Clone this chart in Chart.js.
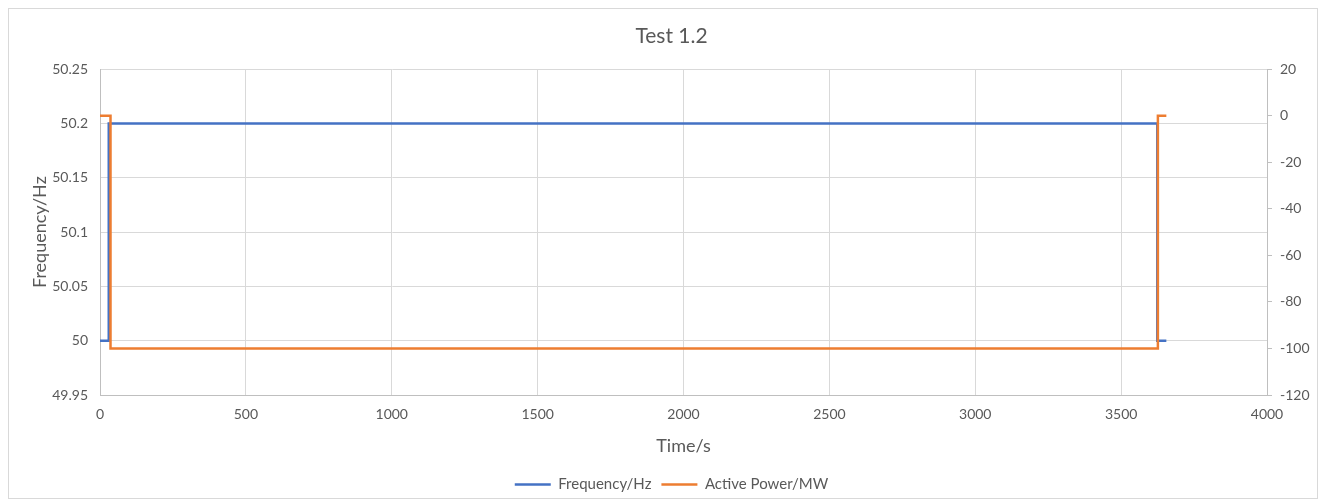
<!DOCTYPE html>
<html>
<head>
<meta charset="utf-8">
<script src="https://cdn.jsdelivr.net/npm/chart.js@4/dist/chart.umd.min.js"></script>
<style>
  body { margin: 0; background: #fff; }
  #wrap { position: relative; width: 1323px; height: 502px; }
  #frame { position: absolute; left: 8px; top: 8px; width: 1308px; height: 489px; border: 1px solid #d9d9d9; }
  #canvas { position: absolute; left: 0; top: 0; }
</style>
</head>
<body>
<div id="wrap">
  <div id="frame"></div>
  <canvas id="canvas" width="1323" height="502"></canvas>
</div>
<script>
// data
let freqTime = [0, 30, 30, 3624, 3624, 3655];
let freqValues = [50, 50, 50.2, 50.2, 50, 50];
let powerTime = [0, 36, 36, 3626, 3626, 3655];
let powerValues = [0, 0, -100, -100, 0, 0];

let seriesNames = ['Frequency/Hz', 'Active Power/MW'];

function toPoints(xs, ys) {
    let out = [];
    for (let i = 0; i < xs.length; i++) {
        out.push({ x: xs[i], y: ys[i] });
    }
    return out;
}

const font = 'Lato, Calibri, "Liberation Sans", sans-serif';
const textColor = '#595959';
const gridColor = '#d9d9d9';

let ctx = document.getElementById('canvas').getContext('2d');

let myChart = new Chart(ctx, {
    type: 'line',
    data: {
        datasets: [{
            label: seriesNames[0],
            data: toPoints(freqTime, freqValues),
            borderColor: '#4472C4',
            backgroundColor: '#4472C4',
            borderWidth: 2.5,
            pointRadius: 0,
            yAxisID: 'y',
            order: 2
        },
        {
            label: seriesNames[1],
            data: toPoints(powerTime, powerValues),
            borderColor: '#ED7D31',
            backgroundColor: '#ED7D31',
            borderWidth: 2.5,
            pointRadius: 0,
            yAxisID: 'y2',
            order: 1   // orange drawn on top, like the original
        }]
    },
    options: {
        responsive: false,
        animation: false,
        layout: { padding: { left: 25, right: 5, top: 0, bottom: 0 } },
        plugins: {
            title: {
                display: true,
                text: 'Test 1.2',
                color: textColor,
                font: { family: font, size: 21, weight: 'normal' },
                padding: { top: 24, bottom: 20 }
            },
            legend: {
                position: 'bottom',
                labels: {
                    color: textColor,
                    font: { family: font, size: 15 },
                    usePointStyle: true,
                    pointStyle: 'line',
                    pointStyleWidth: 36,
                    boxHeight: 10,
                    padding: 10,
                    sort: (a, b) => a.datasetIndex - b.datasetIndex
                }
            },
            tooltip: { enabled: false }
        },
        scales: {
            x: {
                type: 'linear',
                min: 0,
                max: 4000,
                ticks: {
                    stepSize: 500,
                    color: textColor,
                    font: { family: font, size: 14 },
                    padding: 11,
                    callback: v => String(v)
                },
                grid: { color: gridColor, drawTicks: false },
                border: { color: '#bfbfbf' },
                title: { display: true, text: 'Time/s', color: textColor, font: { family: font, size: 18 }, padding: { top: 0, bottom: 10 } },
                afterFit: function(scale) { scale.height = 72; }
            },
            y: {
                position: 'left',
                min: 49.95,
                max: 50.25,
                ticks: {
                    stepSize: 0.05,
                    color: textColor,
                    font: { family: font, size: 14 },
                    padding: 12,
                    callback: v => String(Math.round(v * 100) / 100)
                },
                grid: { color: gridColor, drawTicks: false },
                border: { color: '#bfbfbf' },
                title: { display: true, text: 'Frequency/Hz', color: textColor, font: { family: font, size: 18 }, padding: { top: 4, bottom: 0 } },
                afterFit: function(scale) { scale.width = 75; }
            },
            y2: {
                position: 'right',
                min: -120,
                max: 20,
                ticks: { stepSize: 20, color: textColor, font: { family: font, size: 14 }, padding: 8 },
                grid: { drawOnChartArea: false, color: '#bfbfbf', tickLength: 5 },
                border: { color: '#bfbfbf' },
                afterFit: function(scale) { scale.width = 51; }
            }
        }
    }
});
</script>
</body>
</html>
